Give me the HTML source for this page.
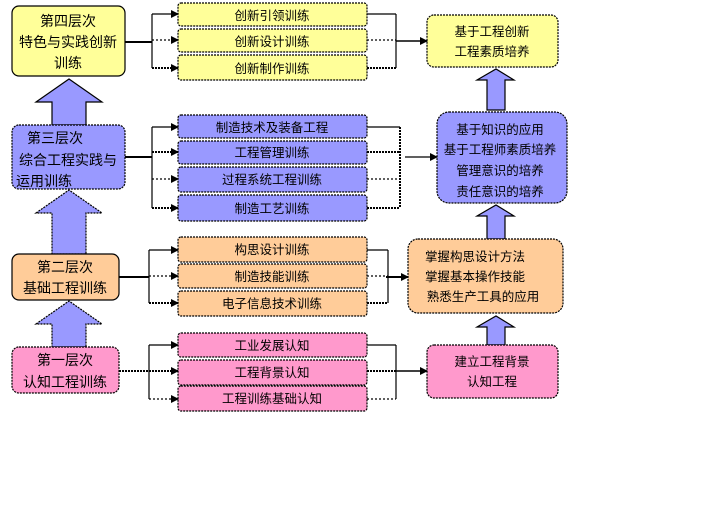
<!DOCTYPE html>
<html><head><meta charset="utf-8"><style>
html,body{margin:0;padding:0;background:#fff;width:720px;height:520px;overflow:hidden}
text{font-family:"Liberation Sans","Noto Sans CJK SC","WenQuanYi Zen Hei",sans-serif;fill:#000;text-anchor:middle}
</style></head><body>
<svg width="720" height="520" viewBox="0 0 720 520" xmlns="http://www.w3.org/2000/svg">
<defs>
<marker id="a" markerWidth="8" markerHeight="8" refX="7" refY="4" orient="auto" markerUnits="userSpaceOnUse"><path d="M0,0 L8,4 L0,8 Z" fill="#000"/></marker>
</defs>
<g stroke="#000" stroke-width="1.2">
<!-- up arrows -->
<polygon points="36,102 69,79 102,102 86,102 86,125 52,125 52,102" fill="#9999ff"/>
<polygon points="36,213 69,190 102,213 86,213 86,254 52,254 52,213" fill="#9999ff" stroke-dasharray="2,1"/>
<polygon points="36,324 69,301 102,324 86,324 86,347 52,347 52,324" fill="#9999ff" stroke-dasharray="2,1"/>
<polygon points="477,80 496,69 514,80 505,80 505,110 487,110 487,80" fill="#9999ff"/>
<polygon points="477,216 496,205 514,216 505,216 505,239 487,239 487,216" fill="#9999ff"/>
<polygon points="477,327 496,316 514,327 505,327 505,345 487,345 487,327" fill="#9999ff"/>
<!-- left boxes -->
<rect x="12" y="6" width="113" height="70" rx="7" fill="#ffff99"/>
<rect x="12" y="125" width="113" height="64" rx="7" fill="#9999ff" stroke-dasharray="2,1"/>
<rect x="12" y="254" width="107" height="46" rx="7" fill="#ffcc99"/>
<rect x="12" y="347" width="107" height="46" rx="7" fill="#ff99cc" stroke-dasharray="2,1"/>
<!-- middle boxes -->
<g stroke-dasharray="2,1">
<rect x="178" y="3" width="189" height="23" rx="3" fill="#ffff99"/>
<rect x="178" y="29" width="189" height="23" rx="3" fill="#ffff99"/>
<rect x="178" y="55" width="189" height="25" rx="3" fill="#ffff99"/>
<rect x="178" y="115" width="189" height="23" rx="3" fill="#9999ff"/>
<rect x="178" y="141" width="189" height="23" rx="3" fill="#9999ff"/>
<rect x="178" y="167" width="189" height="25" rx="3" fill="#9999ff"/>
<rect x="178" y="195" width="189" height="26" rx="3" fill="#9999ff"/>
<rect x="178" y="237" width="189" height="25" rx="3" fill="#ffcc99"/>
<rect x="178" y="264" width="189" height="24" rx="3" fill="#ffcc99"/>
<rect x="178" y="291" width="189" height="25" rx="3" fill="#ffcc99"/>
<rect x="178" y="333" width="189" height="24" rx="3" fill="#ff99cc"/>
<rect x="178" y="360" width="189" height="25" rx="3" fill="#ff99cc"/>
<rect x="178" y="386" width="189" height="25" rx="3" fill="#ff99cc"/>
<!-- right boxes -->
<rect x="427" y="15" width="131" height="52" rx="7" fill="#ffff99"/>
<rect x="437" y="112" width="130" height="91" rx="12" fill="#9999ff"/>
<rect x="408" y="239" width="155" height="74" rx="10" fill="#ffcc99"/>
<rect x="427" y="345" width="131" height="53" rx="7" fill="#ff99cc"/>
</g>
</g>
<!-- connectors -->
<g stroke="#000" stroke-width="1.2" fill="none">
<line x1="125" y1="42" x2="152" y2="42" stroke-width="2"/>
<line x1="152" y1="14" x2="152" y2="68"/>
<line x1="152" y1="14" x2="178" y2="14" marker-end="url(#a)"/>
<line x1="152" y1="40" x2="178" y2="40" marker-end="url(#a)" stroke-dasharray="2,2"/>
<line x1="152" y1="68" x2="178" y2="68" marker-end="url(#a)" stroke-dasharray="2,1" stroke-width="2"/>
<line x1="125" y1="157" x2="152" y2="157" stroke-width="2"/>
<line x1="152" y1="127" x2="152" y2="208"/>
<line x1="152" y1="127" x2="178" y2="127" marker-end="url(#a)"/>
<line x1="152" y1="152" x2="178" y2="152" marker-end="url(#a)" stroke-dasharray="2,1" stroke-width="2"/>
<line x1="152" y1="179" x2="178" y2="179" marker-end="url(#a)" stroke-dasharray="2,2"/>
<line x1="152" y1="208" x2="178" y2="208" marker-end="url(#a)" stroke-dasharray="2,1" stroke-width="2"/>
<line x1="119" y1="277" x2="149" y2="277" stroke-width="2"/>
<line x1="149" y1="250" x2="149" y2="303"/>
<line x1="149" y1="250" x2="178" y2="250" marker-end="url(#a)"/>
<line x1="149" y1="276" x2="178" y2="276" marker-end="url(#a)" stroke-dasharray="2,2"/>
<line x1="149" y1="303" x2="178" y2="303" marker-end="url(#a)" stroke-dasharray="2,1" stroke-width="2"/>
<line x1="119" y1="371" x2="149" y2="371" stroke-width="2" stroke-dasharray="2,1"/>
<line x1="149" y1="345" x2="149" y2="399"/>
<line x1="149" y1="345" x2="178" y2="345" marker-end="url(#a)"/>
<line x1="149" y1="371" x2="178" y2="371" marker-end="url(#a)" stroke-dasharray="2,1" stroke-width="2"/>
<line x1="149" y1="399" x2="178" y2="399" marker-end="url(#a)" stroke-dasharray="2,2"/>
<!-- right side -->
<line x1="367" y1="14" x2="396" y2="14"/>
<line x1="367" y1="40" x2="396" y2="40" stroke-dasharray="2,2"/>
<line x1="367" y1="68" x2="396" y2="68" stroke-dasharray="2,1" stroke-width="2"/>
<line x1="396" y1="14" x2="396" y2="68"/>
<line x1="396" y1="41" x2="427" y2="41" marker-end="url(#a)" stroke-width="1.5"/>
<line x1="367" y1="127" x2="400" y2="127"/>
<line x1="367" y1="152" x2="400" y2="152" stroke-dasharray="2,1" stroke-width="2"/>
<line x1="367" y1="179" x2="400" y2="179" stroke-dasharray="2,2"/>
<line x1="367" y1="208" x2="400" y2="208" stroke-dasharray="2,1" stroke-width="2"/>
<line x1="400" y1="127" x2="400" y2="208" stroke-dasharray="2,1" stroke-width="2"/>
<line x1="405" y1="157" x2="437" y2="157" marker-end="url(#a)"/>
<line x1="367" y1="250" x2="388" y2="250"/>
<line x1="367" y1="276" x2="388" y2="276" stroke-dasharray="2,2"/>
<line x1="367" y1="303" x2="388" y2="303" stroke-dasharray="2,1" stroke-width="2"/>
<line x1="388" y1="250" x2="388" y2="303"/>
<line x1="386" y1="277" x2="408" y2="277" marker-end="url(#a)" stroke-width="2"/>
<line x1="367" y1="345" x2="396" y2="345"/>
<line x1="367" y1="371" x2="396" y2="371" stroke-dasharray="2,1" stroke-width="2"/>
<line x1="367" y1="399" x2="396" y2="399" stroke-dasharray="2,2"/>
<line x1="396" y1="345" x2="396" y2="399"/>
<line x1="396" y1="371" x2="427" y2="371" marker-end="url(#a)" stroke-width="1.5"/>
</g>
<!-- text -->
<g font-size="14">
<text x="68" y="26">第四层次</text>
<text x="68" y="47">特色与实践创新</text>
<text x="68" y="68">训练</text>
<text x="55" y="143">第三层次</text>
<text x="68" y="165">综合工程实践与</text>
<text x="44" y="186">运用训练</text>
<text x="65" y="272">第二层次</text>
<text x="65" y="293">基础工程训练</text>
<text x="65" y="365">第一层次</text>
<text x="65" y="387">认知工程训练</text>
</g>
<g font-size="12.5">
<text x="272" y="20">创新引领训练</text>
<text x="272" y="46">创新设计训练</text>
<text x="272" y="73">创新制作训练</text>
<text x="272" y="132">制造技术及装备工程</text>
<text x="272" y="157">工程管理训练</text>
<text x="272" y="184">过程系统工程训练</text>
<text x="272" y="213">制造工艺训练</text>
<text x="272" y="254">构思设计训练</text>
<text x="272" y="281">制造技能训练</text>
<text x="272" y="308">电子信息技术训练</text>
<text x="272" y="350">工业发展认知</text>
<text x="272" y="377">工程背景认知</text>
<text x="272" y="403">工程训练基础认知</text>
<text x="492" y="36">基于工程创新</text>
<text x="492" y="56">工程素质培养</text>
<text x="500" y="134">基于知识的应用</text>
<text x="500" y="154">基于工程师素质培养</text>
<text x="500" y="175">管理意识的培养</text>
<text x="500" y="196">责任意识的培养</text>
<text x="475" y="261">掌握构思设计方法</text>
<text x="475" y="281">掌握基本操作技能</text>
<text x="483" y="301">熟悉生产工具的应用</text>
<text x="492" y="366">建立工程背景</text>
<text x="492" y="386">认知工程</text>
</g>
</svg>
</body></html>
